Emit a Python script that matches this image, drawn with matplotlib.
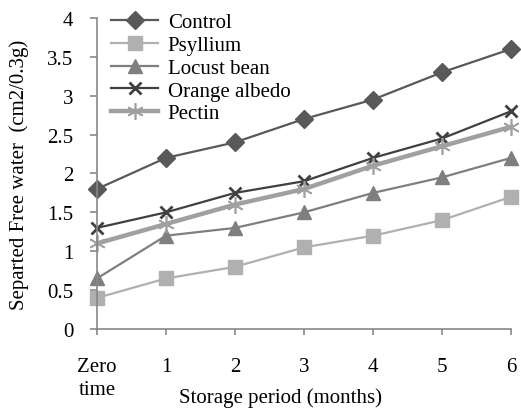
import matplotlib
matplotlib.use("Agg")
import matplotlib.pyplot as plt

months = [0, 1, 2, 3, 4, 5, 6]
tick_labels = ["Zero\ntime", "1", "2", "3", "4", "5", "6"]
control = [1.8, 2.2, 2.4, 2.7, 2.95, 3.3, 3.6]
psyllium = [0.4, 0.65, 0.8, 1.05, 1.2, 1.4, 1.7]
locust = [0.65, 1.2, 1.3, 1.5, 1.75, 1.95, 2.2]
orange = [1.3, 1.5, 1.75, 1.9, 2.2, 2.45, 2.8]
pectin = [1.1, 1.35, 1.6, 1.8, 2.1, 2.35, 2.6]

plt.rcParams['font.family'] = ['Liberation Serif', 'DejaVu Serif']
fs = 15

fig = plt.figure(figsize=(5.21, 4.10), dpi=100)
ax = fig.add_axes([0.186, 0.195, 0.795, 0.759])

ax.plot(months, control, color='#595959', lw=1.6, marker='D', ms=9, label='Control', clip_on=False)
ax.plot(months, psyllium, color='#b0b0b0', lw=1.6, marker='s', ms=9.5, label='Psyllium', clip_on=False)
ax.plot(months, locust, color='#7f7f7f', lw=1.6, marker='^', ms=10, label='Locust bean', clip_on=False)
ax.plot(months, orange, color='#404040', lw=1.6, marker='x', ms=9, mew=2, label='Orange albedo', clip_on=False)
ax.plot(months, pectin, color='#a0a0a0', lw=3.2, marker=(6, 2, 0), ms=12, mew=1.2, label='Pectin', clip_on=False)

ax.set_xlim(0, 6)
ax.set_ylim(0, 4)
ax.set_yticks([0, 0.5, 1, 1.5, 2, 2.5, 3, 3.5, 4])
ax.set_yticklabels(['0', '0.5', '1', '1.5', '2', '2.5', '3', '3.5', '4'], fontsize=fs)
ax.set_xticks(months)
ax.set_xticklabels(tick_labels, fontsize=fs, linespacing=1.3)
ax.tick_params(axis='x', direction='out', length=4, color='#888888', width=1.2, pad=16)
ax.tick_params(axis='y', direction='out', length=5, color='#888888', width=1.2, pad=12)
for s in ['top', 'right']:
    ax.spines[s].set_visible(False)
for s in ['left', 'bottom']:
    ax.spines[s].set_color('#888888')
    ax.spines[s].set_linewidth(1.2)

ax.set_xlabel('Storage period (months)', fontsize=fs)
ax.xaxis.set_label_coords(0.444, -0.186)
ax.set_ylabel('Separted Free water  (cm2/0.3g)', fontsize=fs)
ax.yaxis.set_label_coords(-0.163, 0.5)

leg = ax.legend(loc='upper left', bbox_to_anchor=(0.033, 1.016), frameon=False, fontsize=fs,
                handlelength=2.3, handletextpad=0.45, labelspacing=0.15, borderaxespad=0,
                borderpad=0)

fig.savefig('out.png', dpi=100)
